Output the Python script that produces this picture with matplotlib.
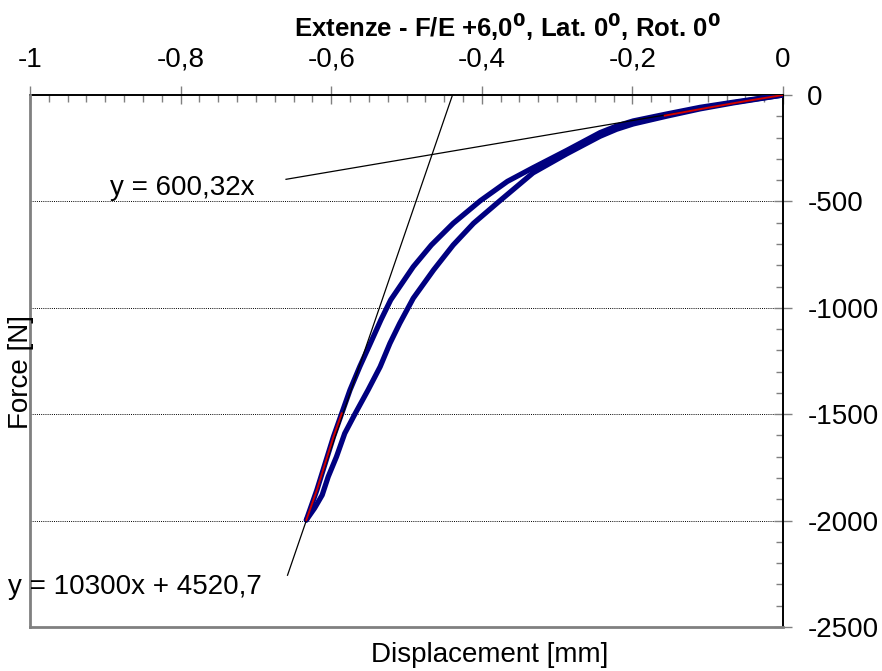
import matplotlib
matplotlib.use("Agg")
import matplotlib.pyplot as plt
from matplotlib.ticker import MultipleLocator, FuncFormatter, FixedLocator

plt.rcParams['font.family'] = ['Liberation Sans', 'DejaVu Sans']

# Branch A of the hysteresis loop: displacement [mm], force [N]
disp_a = [0.000, -0.066, -0.110, -0.154, -0.199, -0.221, -0.243, -0.287, -0.332,
          -0.366, -0.402, -0.438, -0.467, -0.491, -0.521, -0.534, -0.548, -0.562,
          -0.575, -0.586, -0.597, -0.608, -0.619, -0.633]
force_a = [0, -34, -58, -89, -122, -146, -177, -260, -342,
           -406, -497, -603, -705, -807, -963, -1057, -1167, -1276,
           -1386, -1496, -1606, -1731, -1856, -1997]

# Branch B of the hysteresis loop
disp_b = [0.000, -0.066, -0.110, -0.154, -0.199, -0.221, -0.243, -0.287, -0.332,
          -0.376, -0.411, -0.438, -0.464, -0.491, -0.509, -0.522, -0.535,
          -0.551, -0.568, -0.582, -0.593, -0.604, -0.612, -0.622, -0.633]
force_b = [0, -37, -65, -99, -136, -161, -194, -276, -366,
           -497, -603, -705, -822, -955, -1073, -1167, -1277,
           -1386, -1496, -1590, -1700, -1794, -1880, -1941, -1997]

# Samples used for the two linear fits
fit1_disp = [0.000, -0.050, -0.100, -0.157]
fit1_force = [0, -29, -60, -97]
fit2_disp = [-0.586, -0.597, -0.608, -0.619, -0.633]
fit2_force = [-1496, -1606, -1731, -1856, -1997]

# Trendlines: y = k*x + q, drawn over the given displacement ranges
trend1_k, trend1_q = 600.32, 0.0
trend1_range = [-0.660, 0.0]
trend2_k, trend2_q = 10300.0, 4520.7
trend2_range = [-0.658, -0.4389]

trend1_label = "y = 600,32x"
trend2_label = "y = 10300x + 4520,7"

x_ticks = [-1.0, -0.8, -0.6, -0.4, -0.2, 0.0]
y_ticks = [0, -500, -1000, -1500, -2000, -2500]
grid_levels = [-500, -1000, -1500, -2000]

title = "Extenze - F/E +6,0$^\\mathbf{0}$, Lat. 0$^\\mathbf{0}$, Rot. 0$^\\mathbf{0}$"

W, H = 882, 671
fig = plt.figure(figsize=(W / 100, H / 100), dpi=100)
ax = fig.add_axes([30 / W, 44 / H, 753 / W, 532 / H])

ax.set_xlim(-1.0, 0.0)
ax.set_ylim(-2500, 0)

for lvl in grid_levels:
    ax.axhline(lvl, color='black', lw=0.7, linestyle=(0, (1, 1.2)), zorder=1)

for xs, ys in ((disp_a, force_a), (disp_b, force_b)):
    ax.plot(xs, ys, color='#000080', lw=3.8, solid_capstyle='round',
            solid_joinstyle='round', zorder=3)

t1_y = [trend1_k * x + trend1_q for x in trend1_range]
t2_y = [trend2_k * x + trend2_q for x in trend2_range]
ax.plot(trend1_range, t1_y, color='black', lw=0.9, zorder=5)
ax.plot(trend2_range, t2_y, color='black', lw=0.9, zorder=5)

ax.plot(fit1_disp, fit1_force, color='#d00000', lw=1.4, zorder=6)
ax.plot(fit2_disp, fit2_force, color='#d00000', lw=1.4, zorder=6)

fmt = FuncFormatter(lambda v, p: f"{v:g}".replace('.', ','))
ax.xaxis.set_major_locator(FixedLocator(x_ticks))
ax.xaxis.set_minor_locator(MultipleLocator(0.025))
ax.yaxis.set_major_locator(FixedLocator(y_ticks))
ax.yaxis.set_minor_locator(MultipleLocator(100))
ax.xaxis.set_major_formatter(fmt)
ax.yaxis.set_major_formatter(fmt)

ax.xaxis.tick_top()
ax.yaxis.tick_right()
ax.tick_params(axis='x', which='major', direction='inout', length=13, width=1,
               color='#808080', pad=9.5, labelsize=20)
ax.tick_params(axis='x', which='minor', direction='in', length=5, width=1,
               color='#808080')
ax.tick_params(axis='y', which='major', direction='inout', length=13, width=1,
               color='#808080', pad=11, labelsize=20)
ax.tick_params(axis='y', which='minor', direction='in', length=5, width=1,
               color='#808080')

for side in ('top', 'right'):
    ax.spines[side].set_color('black')
    ax.spines[side].set_linewidth(1.4)
for side in ('left', 'bottom'):
    ax.spines[side].set_color('#808080')
    ax.spines[side].set_linewidth(2)
    ax.spines[side].set_zorder(7)

fig.text(507 / W, 1 - 27 / H, title, fontsize=18.5, fontweight='bold',
         ha='center', va='center')
fig.text(490 / W, 1 - 655 / H, "Displacement [mm]", fontsize=20,
         ha='center', va='center')
fig.text(21 / W, 1 - 372 / H, "Force [N]", fontsize=20, rotation=90,
         ha='center', va='center')
fig.text(110 / W, 1 - 188 / H, trend1_label, fontsize=20, ha='left', va='center')
fig.text(8 / W, 1 - 587 / H, trend2_label, fontsize=20, ha='left', va='center')

fig.savefig("out.png", dpi=100)
